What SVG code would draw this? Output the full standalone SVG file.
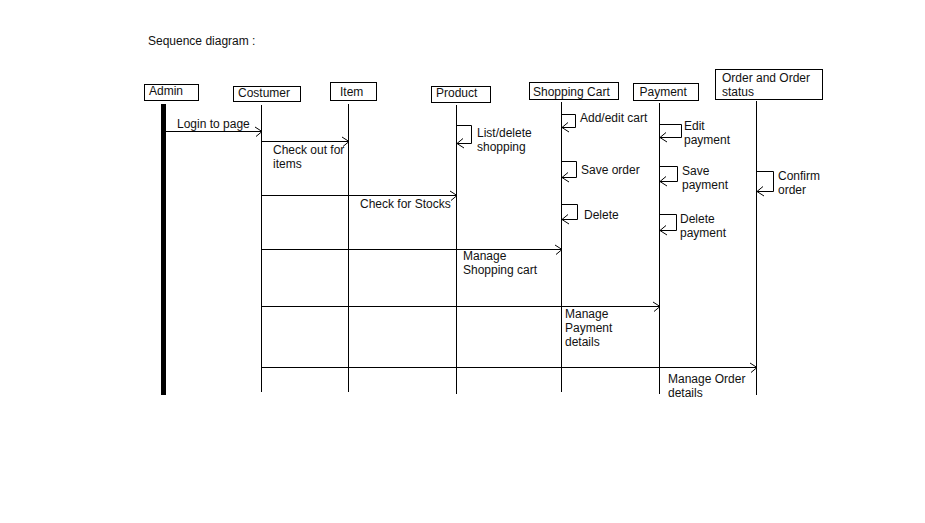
<svg xmlns="http://www.w3.org/2000/svg" width="925" height="523" viewBox="0 0 925 523">
<style>
text{font-family:"Liberation Sans",Arial,sans-serif;font-size:12px;fill:#111}
.box{fill:#fff;stroke:#000;stroke-width:1}
.life{stroke:#000;stroke-width:1;fill:none}
.msg{stroke:#000;stroke-width:1;fill:none;marker-end:url(#ah)}
</style>
<defs>
<marker id="ah" markerUnits="userSpaceOnUse" markerWidth="20" markerHeight="20" refX="10" refY="10" orient="auto" overflow="visible">
<path d="M3,5.5 L10,10 L4,15" fill="none" stroke="#000" stroke-width="1"/>
</marker>
</defs>
<rect width="925" height="523" fill="#fff"/>
<text x="148" y="45">Sequence diagram :</text>

<g id="admin">
<rect class="box" x="144.5" y="84.5" width="54" height="16"/>
<text x="149" y="95">Admin</text>
<rect x="161" y="104" width="5" height="291" fill="#000"/>
</g>
<g id="costumer">
<rect class="box" x="233.5" y="86.5" width="67" height="15"/>
<text x="238" y="97">Costumer</text>
<line class="life" x1="261.5" y1="105" x2="261.5" y2="392"/>
</g>
<g id="item">
<rect class="box" x="330.5" y="82.5" width="46" height="18"/>
<text x="340" y="96">Item</text>
<line class="life" x1="348.5" y1="104" x2="348.5" y2="392"/>
</g>
<g id="product">
<rect class="box" x="431.5" y="86.5" width="59" height="16"/>
<text x="436" y="97">Product</text>
<line class="life" x1="456.5" y1="105" x2="456.5" y2="394"/>
</g>
<g id="shopping-cart">
<rect class="box" x="529.5" y="82.5" width="89" height="17"/>
<text x="533" y="96">Shopping Cart</text>
<line class="life" x1="561.5" y1="102" x2="561.5" y2="392"/>
</g>
<g id="payment">
<rect class="box" x="633.5" y="83.5" width="65" height="17"/>
<text x="639.5" y="96">Payment</text>
<line class="life" x1="659.5" y1="103" x2="659.5" y2="394"/>
</g>
<g id="order">
<rect class="box" x="715.5" y="69.5" width="107" height="30"/>
<text x="722" y="82">Order and Order</text>
<text x="722" y="96">status</text>
<line class="life" x1="756.5" y1="101" x2="756.5" y2="395"/>
</g>

<g id="connectors">
<line class="msg" x1="166" y1="131.5" x2="262" y2="131.5"/>
<line class="msg" x1="262" y1="141.5" x2="349" y2="141.5"/>
<line class="msg" x1="262" y1="195.5" x2="457" y2="195.5"/>
<line class="msg" x1="262" y1="249.5" x2="562" y2="249.5"/>
<line class="msg" x1="262" y1="306.5" x2="660" y2="306.5"/>
<line class="msg" x1="262" y1="367.5" x2="757" y2="367.5"/>
<path class="msg" d="M456.5,125.5 H471.5 V143.5 H457"/>
<path class="msg" d="M561.5,114.5 H575.5 V127.5 H562"/>
<path class="msg" d="M561.5,161.5 H576.5 V177.5 H562"/>
<path class="msg" d="M561.5,204.5 H577.5 V219.5 H562"/>
<path class="msg" d="M659.5,124.5 H681.5 V137.5 H660"/>
<path class="msg" d="M659.5,166.5 H677.5 V181.5 H660"/>
<path class="msg" d="M659.5,214.5 H676.5 V230.5 H660"/>
<path class="msg" d="M756.5,171.5 H773.5 V191.5 H757"/>
</g>

<g id="labels">
<text x="177" y="128">Login to page</text>
<text x="273" y="154">Check out for</text>
<text x="273" y="168">items</text>
<text x="360" y="208">Check for Stocks</text>
<text x="463" y="260">Manage</text>
<text x="463" y="274">Shopping cart</text>
<text x="565" y="318">Manage</text>
<text x="565" y="332">Payment</text>
<text x="565" y="346">details</text>
<text x="668" y="383">Manage Order</text>
<text x="668" y="397">details</text>
<text x="477" y="137">List/delete</text>
<text x="477" y="151">shopping</text>
<text x="580" y="122">Add/edit cart</text>
<text x="581" y="174">Save order</text>
<text x="584" y="219">Delete</text>
<text x="684" y="130">Edit</text>
<text x="684" y="144">payment</text>
<text x="682" y="175">Save</text>
<text x="682" y="189">payment</text>
<text x="680" y="223">Delete</text>
<text x="680" y="237">payment</text>
<text x="778" y="180">Confirm</text>
<text x="778" y="194">order</text>
</g>
</svg>
